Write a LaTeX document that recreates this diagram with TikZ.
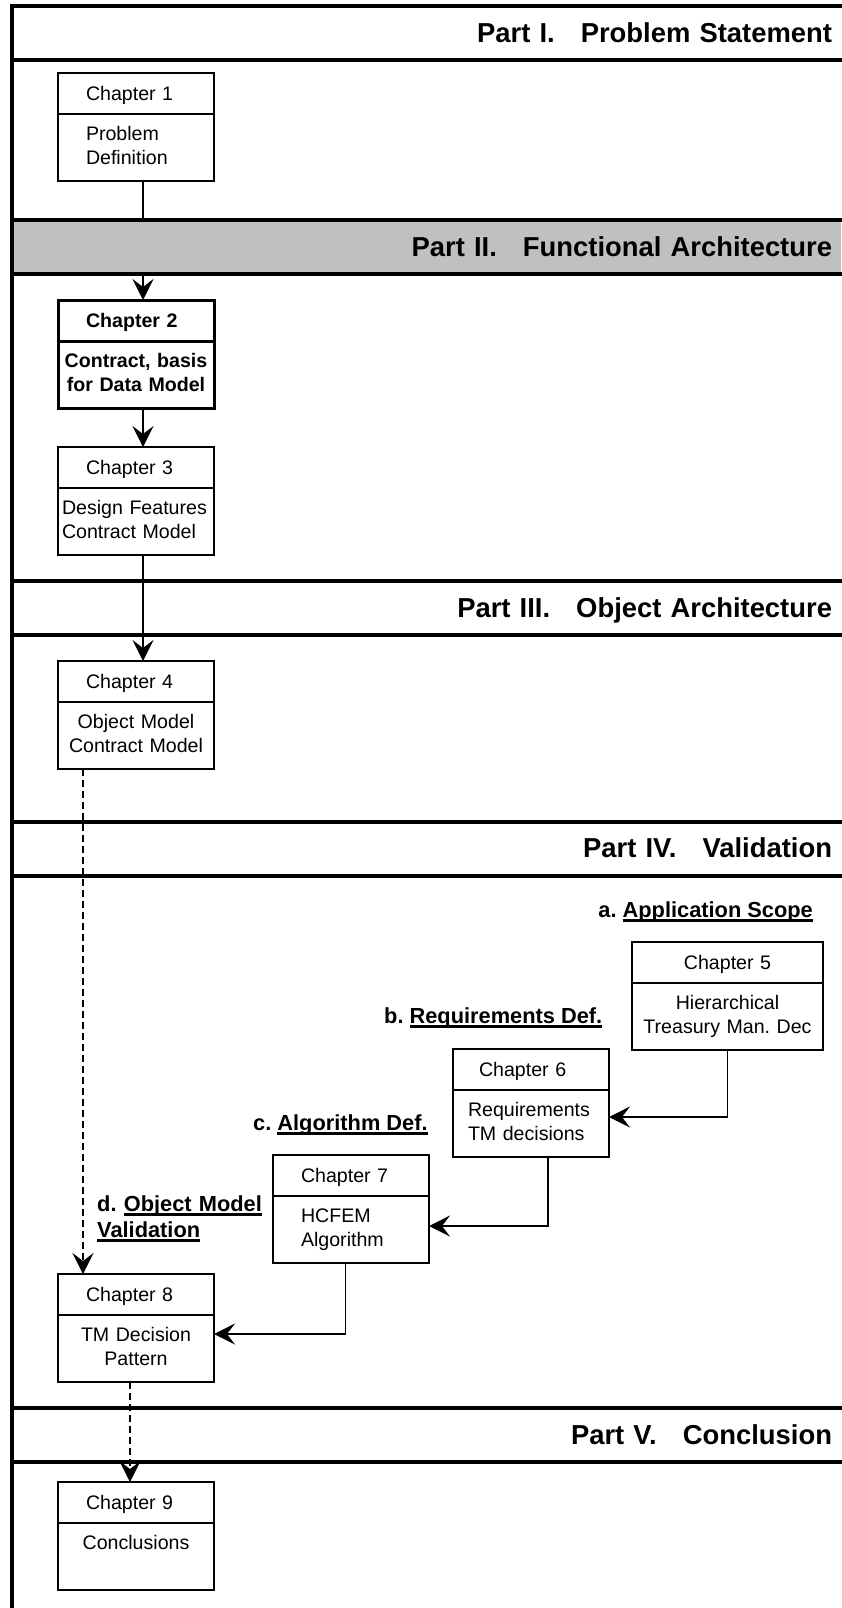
\documentclass[tikz,border=0pt]{standalone}
\usepackage{fontspec}
\setmainfont{Liberation Sans}
\usetikzlibrary{arrows.meta,positioning,calc}

\definecolor{bandgray}{RGB}{192,192,192}
% underline drawn as a heavy rule just under the baseline
\newcommand\ulword[1]{\leavevmode\setbox0\hbox{#1}\rlap{\rule[-5pt]{\wd0}{3pt}}\box0}
\frenchspacing

\begin{document}
\begin{tikzpicture}[x=1pt,y=1pt,yscale=-1,
  band/.style={minimum width=829pt,text width=811pt,inner xsep=9pt,inner ysep=0pt,outer sep=0pt,
    align=right,text height=36pt,text depth=18pt,font=\fontsize{27.4}{30}\selectfont\bfseries},
  bandline/.style={line width=4pt,line cap=rect},
  chead/.style={draw,line width=1.5pt,outer sep=0pt,text width=100pt,inner xsep=28pt,inner ysep=0pt,
    align=left,text height=27.5pt,text depth=13.5pt,font=\fontsize{19.6}{24}\selectfont},
  cbody/.style={draw,line width=1.5pt,outer sep=0pt,text width=148pt,inner xsep=4pt,inner ysep=0pt,
    align=center,text height=26.5pt,text depth=40.5pt,font=\fontsize{19.6}{24}\selectfont},
  key/.style={line width=3pt,font=\fontsize{19.6}{24}\selectfont\bfseries},
  tag/.style={inner sep=0pt,font=\fontsize{21.8}{26}\selectfont\bfseries},
  flow/.style={line width=1.5pt,-{Stealth[length=21pt,width=21pt,inset=8pt]}},
  link/.style={flow,dash pattern=on 7pt off 4pt}]
\useasboundingbox (0,0) rectangle (841,1608);

%Chapter boxes
\node[chead,anchor=north west] (c1h) at (58,73) {Chapter 1};
\node[cbody,below=0pt of c1h,align=left,text width=100pt,inner xsep=28pt] (c1) {Problem\\Definition};

\node[chead,key,anchor=north west] (c2h) at (58,300) {Chapter 2};
\node[cbody,key,below=0pt of c2h] (c2) {Contract, basis\\for Data Model};

\node[chead,anchor=north west] (c3h) at (58,447) {Chapter 3};
\node[cbody,below=0pt of c3h,align=left] (c3) {Design Features\\Contract Model};

\node[chead,anchor=north west] (c4h) at (58,661) {Chapter 4};
\node[cbody,below=0pt of c4h] (c4) {Object Model\\Contract Model};

\node[chead,anchor=north west,align=center,text width=183pt,inner xsep=4pt] (c5h) at (632,942) {Chapter 5};
\node[cbody,below=0pt of c5h,text width=183pt] (c5) {Hierarchical\\Treasury Man. Dec};

\node[chead,anchor=north west,text width=104pt,inner xsep=26pt] (c6h) at (453,1049) {Chapter 6};
\node[cbody,below=0pt of c6h,align=left,text width=126pt,inner xsep=15pt] (c6) {Requirements\\TM decisions};

\node[chead,anchor=north west] (c7h) at (273,1155) {Chapter 7};
\node[cbody,below=0pt of c7h,align=left,text width=100pt,inner xsep=28pt] (c7) {HCFEM\\Algorithm};

\node[chead,anchor=north west] (c8h) at (58,1274) {Chapter 8};
\node[cbody,below=0pt of c8h] (c8) {TM Decision\\Pattern};

\node[chead,anchor=north west] (c9h) at (58,1482) {Chapter 9};
\node[cbody,below=0pt of c9h] (c9) {Conclusions};

%Validation steps
\node[tag,anchor=base east] (ta) at (813,917) {a. \ulword{Application Scope}};
\node[tag,anchor=base west] (tb) at (384,1023) {b. \ulword{Requirements Def.}};
\node[tag,anchor=base west] (tc) at (253,1130) {c. \ulword{Algorithm Def.}};
\node[tag,anchor=base west,align=left,text width=170pt] (td) at (97,1211) {d. \ulword{Object Model}\\\ulword{Validation}};

%Connectors
\draw[flow] ($(c1.south)+(7,0)$) -- ($(c2h.north)+(7,0)$);
\draw[flow] ($(c2.south)+(7,0)$) -- ($(c3h.north)+(7,0)$);
\draw[flow] ($(c3.south)+(7,0)$) -- ($(c4h.north)+(7,0)$);
\draw[link] ($(c4.south west)+(25,0)$) -- ($(c8h.north west)+(25,0)$);
\draw[flow] (c5.south) |- ($(c6.north east)+(0,27)$);
\draw[flow] ($(c6.south)+(17,0)$) |- ($(c7.north east)+(0,30)$);
\draw[flow] ($(c7.south)+(-5.5,0)$) |- ($(c8.north east)+(0,19)$);
\draw[link] ($(c8.south west)+(72,0)$) -- ($(c9h.north west)+(72,0)$);

%Part bands
\node[band,anchor=north west] (p1) at (12,6.5) {Part I.\hspace{26pt}Problem Statement};
\node[band,anchor=north west,fill=bandgray] (p2) at (12,220) {Part II.\hspace{26pt}Functional Architecture};
\node[band,anchor=north west] (p3) at (12,581) {Part III.\hspace{26pt}Object Architecture};
\node[band,anchor=north west] (p4) at (12,821.5) {Part IV.\hspace{26pt}Validation};
\node[band,anchor=north west] (p5) at (12,1408) {Part V.\hspace{26pt}Conclusion};
\foreach \p in {p1,p2,p3,p4,p5}
  \draw[bandline] (\p.north west) -- (\p.north east) (\p.south west) -- (\p.south east);

%Frame
\coordinate (foot) at (12,1608);
\draw[bandline] (p1.north west) -- (foot);

\end{tikzpicture}
\end{document}
